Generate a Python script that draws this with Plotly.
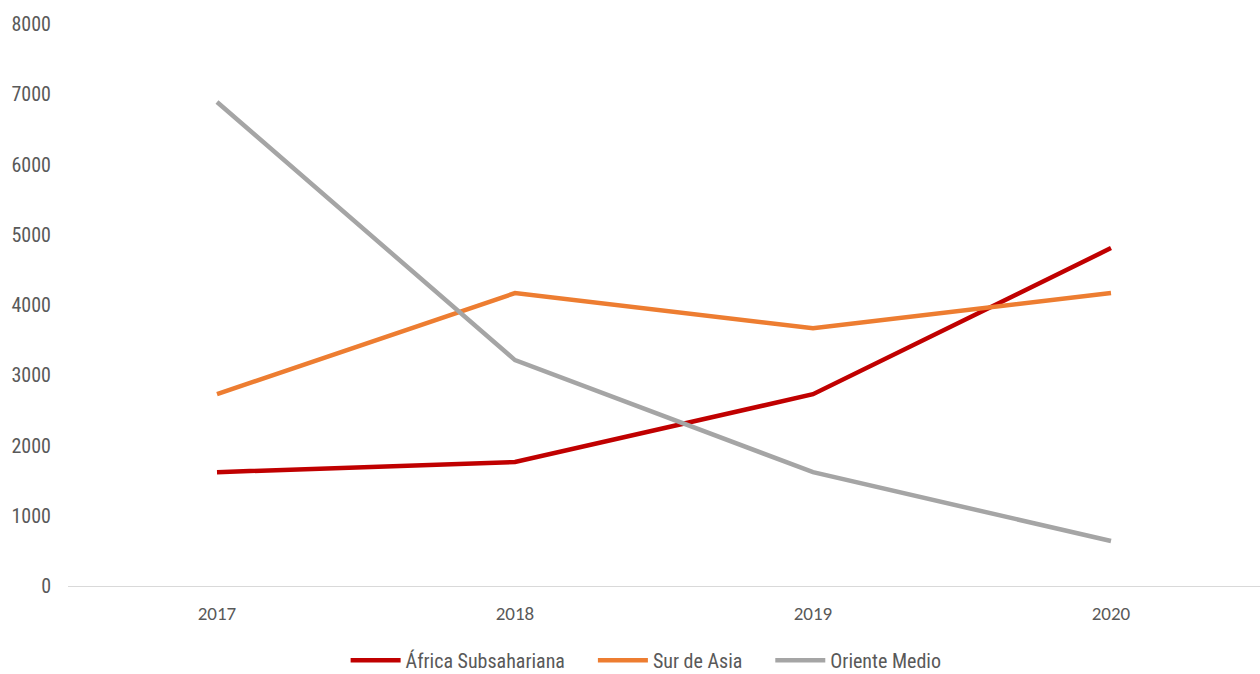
import plotly.graph_objects as go

years = ["2017", "2018", "2019", "2020"]
africa = [1620, 1765, 2730, 4810]
asia = [2730, 4170, 3670, 4170]
oriente = [6890, 3215, 1620, 640]
y_ticks = [0, 1000, 2000, 3000, 4000, 5000, 6000, 7000, 8000]

series = [
    ("África Subsahariana", africa, "#C00000"),
    ("Sur de Asia", asia, "#ED7D31"),
    ("Oriente Medio", oriente, "#A5A5A5"),
]

# extra spacing after each legend entry except the last
pad = "\u00a0" * 5

fig = go.Figure()
for i, (name, vals, color) in enumerate(series):
    label = name + (pad if i < len(series) - 1 else "")
    fig.add_trace(go.Scatter(
        x=list(range(len(years))), y=vals, name=label, mode="lines",
        line=dict(color=color, width=4.5),
    ))

narrow = "Roboto Condensed, DejaVu Sans Condensed, sans-serif"

fig.update_layout(
    width=1260, height=674,
    margin=dict(l=68, r=0, t=24, b=88, autoexpand=False),
    paper_bgcolor="white", plot_bgcolor="white",
    showlegend=True,
    legend=dict(orientation="h", x=0.485, xanchor="center", y=-0.132, yanchor="middle",
                font=dict(family=narrow, size=20, color="#595959"),
                traceorder="normal", itemwidth=50),
    xaxis=dict(
        range=[-0.5, 3.5], tickmode="array", tickvals=list(range(len(years))),
        ticktext=years, showgrid=False, zeroline=False, showline=False,
        tickfont=dict(family="Carlito, Liberation Sans, sans-serif", size=19, color="#595959"),
        ticks="", ticklabelstandoff=14,
    ),
    yaxis=dict(
        range=[0, 8000], tickmode="array", tickvals=y_ticks,
        showgrid=False, zeroline=True, zerolinecolor="#D9D9D9", zerolinewidth=1,
        showline=False, ticks="", ticklabelstandoff=16,
        tickfont=dict(family=narrow, size=20, color="#595959"),
    ),
)

fig.write_html("out.html")
